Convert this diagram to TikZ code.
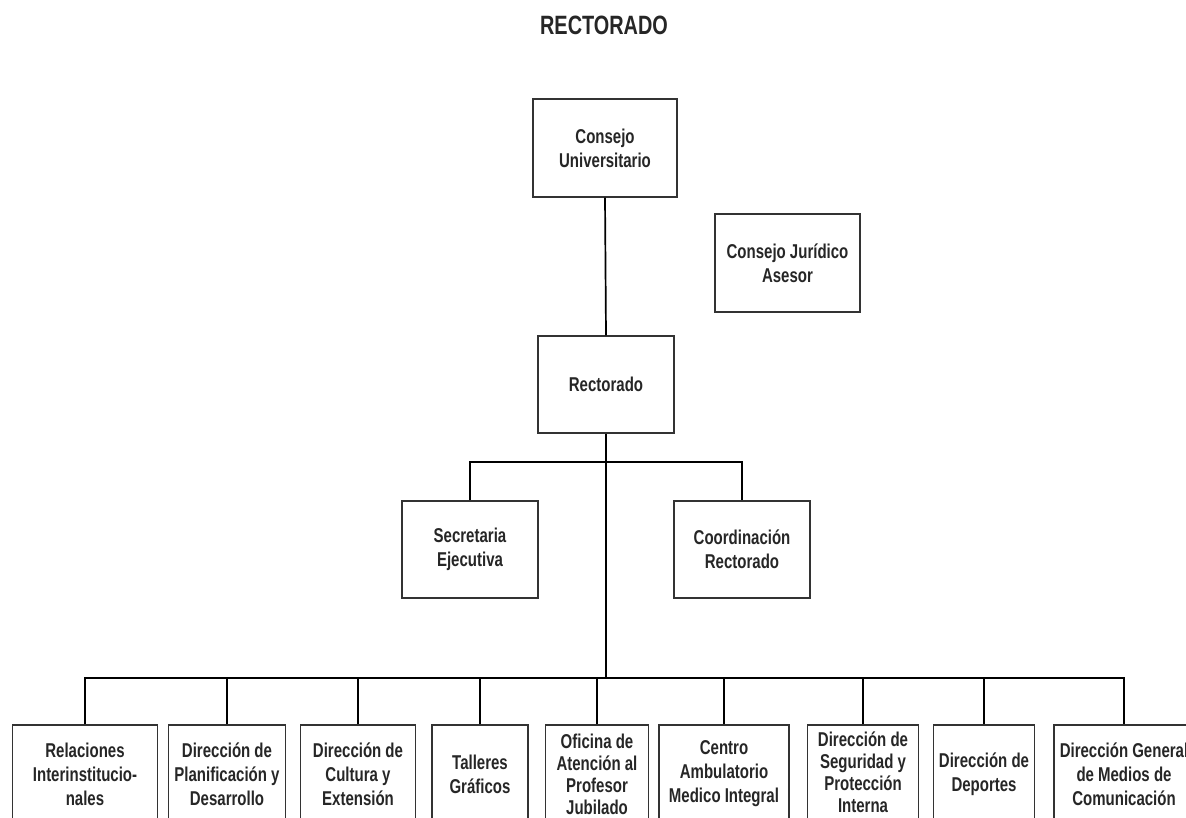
\documentclass[tikz,border=0pt]{standalone}
\usepackage{fontspec}
\newfontfamily\boxfont[FakeStretch=0.75]{Liberation Sans}
\begin{document}
\begin{tikzpicture}[x=1pt,y=-1pt,
  box/.style={draw=black!80, line width=1.2pt, inner sep=0pt, align=center,
    font=\boxfont\bfseries\fontsize{20}{24}\selectfont, text=black!85},
  boxtext/.style={align=center, inner sep=0pt, text=black!85,
    font=\boxfont\bfseries\fontsize{20}{22}\selectfont},
  link/.style={draw=black, line width=1.7pt}]
\useasboundingbox (0,0) rectangle (1186,818);
\clip (0,0) rectangle (1186,818);
\node[font=\boxfont\bfseries\fontsize{26.5}{30}\selectfont, text=black!85] (title) at (604,25) {RECTORADO};
% top
\node[box, minimum width=144pt, minimum height=98pt] (cu) at (605,148) {Consejo\\Universitario};
\node[box, minimum width=145pt, minimum height=98pt] (cj) at (787.5,263) {Consejo Jurídico\\Asesor};
\node[box, minimum width=136pt, minimum height=97pt] (rect) at (606,384.5) {Rectorado};
\node[box, minimum width=136pt, minimum height=97pt] (sec) at (470,549.5) {Secretaria\\Ejecutiva};
\node[box, minimum width=136pt, minimum height=97pt] (coord) at (742,549.5) {Coordinación\\Rectorado};
% bottom row
\node[box, minimum width=145pt, minimum height=98pt] (b1) at (85,774) {Relaciones\\Interinstitucio-\\nales};
\node[box, minimum width=117pt, minimum height=98pt] (b2) at (227,774) {Dirección de\\Planificación y\\Desarrollo};
\node[box, minimum width=115pt, minimum height=98pt] (b3) at (358,774) {Dirección de\\Cultura y\\Extensión};
\node[box, minimum width=96pt, minimum height=98pt] (b4) at (480,774) {Talleres\\Gráficos};
\node[box, minimum width=103pt, minimum height=98pt] (b5) at (597,774) {};
\node[boxtext] (t5) at (597,774) {Oficina de\\Atención al\\Profesor\\Jubilado};
\node[box, minimum width=130pt, minimum height=98pt] (b6) at (724,774) {Centro\\Ambulatorio\\Medico Integral};
\node[box, minimum width=111pt, minimum height=98pt] (b7) at (863,774) {};
\node[boxtext] (t7) at (863,772) {Dirección de\\Seguridad y\\Protección\\Interna};
\node[box, minimum width=101pt, minimum height=98pt] (b8) at (984,774) {Dirección de\\Deportes};
\node[box, minimum width=140pt, minimum height=98pt] (b9) at (1124,774) {Dirección General\\de Medios de\\Comunicación};
% connectors
\coordinate (sub) at (606,462);
\coordinate (bus) at (606,678);
\draw[link] (cu.south) -- (rect.north);
\draw[link] (rect.south) -- (bus);
\draw[link] (sec.north) |- (sub) -| (coord.north);
\draw[link] (b1.north) |- (bus) -| (b9.north);
\foreach \b in {b2,b3,b4,b5,b6,b7,b8}
  \draw[link] (\b.north) -- (\b.north |- bus);
\end{tikzpicture}
\end{document}
